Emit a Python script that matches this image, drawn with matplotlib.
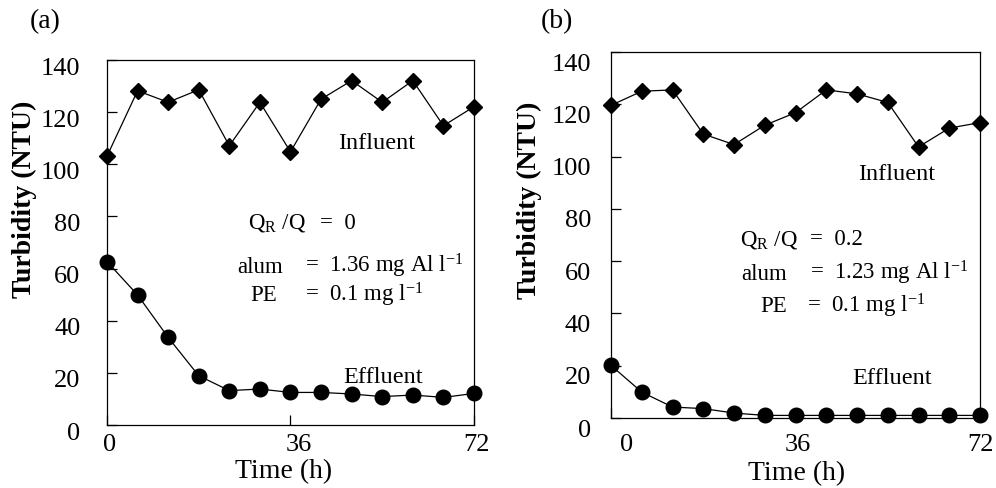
import matplotlib
matplotlib.use("Agg")
import matplotlib.pyplot as plt
from matplotlib.transforms import ScaledTranslation

plt.rcParams["font.family"] = ["Liberation Serif", "DejaVu Serif"]
plt.rcParams["mathtext.default"] = "regular"

# time axis (h)
time_h = [0, 6, 12, 18, 24, 30, 36, 42, 48, 54, 60, 66, 72]

# panel (a): QR/Q = 0
infl_a = [103.1, 128.2, 123.8, 128.6, 107.1, 123.8, 104.8, 125.0, 132.1, 123.8, 132.1, 114.8, 122.1]
effl_a = [62.7, 49.9, 33.6, 18.9, 13.2, 13.8, 12.5, 12.5, 11.9, 10.9, 11.5, 10.6, 12.1]

# panel (b): QR/Q = 0.2
infl_b = [119.6, 125.0, 125.5, 108.6, 104.6, 112.0, 116.8, 125.5, 124.0, 120.7, 103.7, 110.9, 113.0]
effl_b = [20.1, 9.9, 4.2, 3.6, 1.9, 1.0, 1.0, 1.0, 1.0, 1.0, 1.0, 1.0, 1.0]

y_ticks = [0, 20, 40, 60, 80, 100, 120, 140]
x_ticks = [0, 36, 72]

fig = plt.figure(figsize=(9.96, 4.89), dpi=100)


def draw_panel(rect, infl, effl, cfg):
    ax = fig.add_axes(rect)
    ax.plot(time_h, infl, color="black", lw=0.9, marker="D", ms=8,
            mfc="black", mec="black", clip_on=False, zorder=3)
    ax.plot(time_h, effl, color="black", lw=0.9, marker="o", ms=10.5,
            mfc="black", mec="black", clip_on=False, zorder=3)
    ax.set_xlim(0, 72)
    ax.set_ylim(0, 140)
    ax.set_xticks(x_ticks)
    ax.set_yticks(y_ticks)
    ax.tick_params(axis="y", direction="in", length=7, width=0.9,
                   labelsize=19, pad=cfg["ypad"])
    ax.tick_params(axis="x", direction="in", length=7, width=0.9,
                   labelsize=19, pad=cfg["xpad"])
    for sp in ax.spines.values():
        sp.set_linewidth(0.9)

    # tick labels in the source sit a little below their marks
    for lab in ax.get_yticklabels():
        lab.set_transform(lab.get_transform()
                          + ScaledTranslation(0, -cfg["ydrop"] / 100, fig.dpi_scale_trans))
    for lab, dx in zip(ax.get_xticklabels(), cfg["xshift"]):
        lab.set_transform(lab.get_transform()
                          + ScaledTranslation(dx / 100, 0, fig.dpi_scale_trans))

    ax.set_xlabel("Time (h)", fontsize=20)
    ax.xaxis.set_label_coords(*cfg["xlab"])
    ax.set_ylabel("Turbidity (NTU)", fontsize=20, fontweight="bold")
    ax.yaxis.set_label_coords(*cfg["ylab"])

    ax.text(*cfg["infl"], "Influent", fontsize=17.5, ha="center", va="center",
            transform=ax.transAxes)
    ax.text(*cfg["effl"], "Effluent", fontsize=17.5, ha="center", va="center",
            transform=ax.transAxes)

    # operating conditions, with the "=" signs lined up
    for name, value, (x1, x2, yb) in zip(
            ["Q$_{R}$ /Q", "alum", "PE"], cfg["vals"], cfg["rows"]):
        ax.text(x1, yb, name, fontsize=16.5, ha="left", va="baseline",
                transform=ax.transAxes)
        ax.text(x2, yb, "=  " + value, fontsize=16.5, ha="left", va="baseline",
                transform=ax.transAxes)

    fig.text(cfg["tag"][0], cfg["tag"][1], cfg["tag"][2], fontsize=20,
             ha="center", va="center")
    return ax


draw_panel([0.1074, 0.1288, 0.3685, 0.7464], infl_a, effl_a, dict(
    ypad=19, xpad=6, ydrop=5, xshift=[3, 8, 3],
    xlab=(0.48, -0.09), ylab=(-0.19, 0.62),
    infl=(0.736, 0.775), effl=(0.752, 0.132),
    vals=["0", "1.36 mg Al l$^{-1}$", "0.1 mg l$^{-1}$"],
    rows=[(0.384, 0.580, 0.540), (0.354, 0.540, 0.420), (0.390, 0.540, 0.342)],
    tag=(0.045, 0.956, "(a)"),
))

draw_panel([0.6135, 0.1431, 0.3705, 0.7485], infl_b, effl_b, dict(
    ypad=14.5, xpad=11, ydrop=9, xshift=[16, 2, 0],
    xlab=(0.504, -0.115), ylab=(-0.187, 0.598),
    infl=(0.775, 0.667), effl=(0.761, 0.112),
    vals=["0.2", "1.23 mg Al l$^{-1}$", "0.1 mg l$^{-1}$"],
    rows=[(0.350, 0.539, 0.475), (0.352, 0.539, 0.380), (0.404, 0.531, 0.292)],
    tag=(0.559, 0.956, "(b)"),
))

fig.savefig("out.png", dpi=100)
